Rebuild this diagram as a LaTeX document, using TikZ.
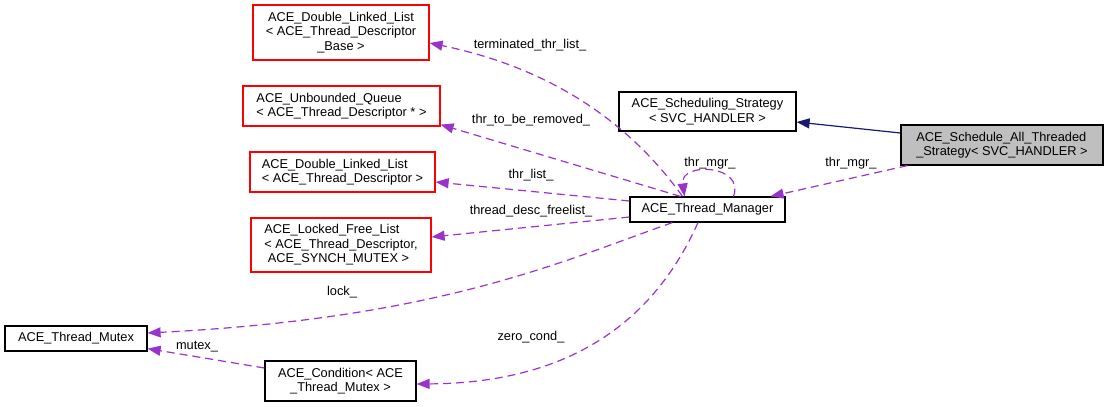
\documentclass[tikz,border=0pt]{standalone}
\usepackage{fontspec}
\setmainfont{Liberation Sans}
\usetikzlibrary{arrows.meta}
\definecolor{orchid}{RGB}{154,50,205}
\definecolor{edgeblue}{RGB}{25,25,112}
\definecolor{mainfill}{RGB}{191,191,191}

\begin{document}
\begin{tikzpicture}[x=1pt, y=-1pt, line width=1.2pt,
    font=\fontsize{12.8}{14.5}\selectfont,
    cls/.style={draw=black, fill=white, inner sep=0pt},
    refcls/.style={cls, draw=red},
    member/.style={orchid, dash pattern=on 8pt off 5pt, -{Triangle[length=13pt, width=10pt]}},
    derive/.style={edgeblue, -{Triangle[length=13pt, width=10pt]}},
    lbl/.style={inner sep=0pt}]
            \useasboundingbox (0,0) rectangle (1109,407);

            % Classes
            \node[refcls, align=center, minimum width=176pt, minimum height=55pt] (dllbase) at (341,32.5)
                {ACE\_Double\_Linked\_List\\< ACE\_Thread\_Descriptor\\\_Base >};
            \node[refcls, align=left, minimum width=197pt, minimum height=40pt] (uq) at (341.5,106)
                {ACE\_Unbounded\_Queue\\< ACE\_Thread\_Descriptor * >};
            \node[refcls, align=left, minimum width=185pt, minimum height=40pt] (dll) at (342.5,172)
                {ACE\_Double\_Linked\_List\\< ACE\_Thread\_Descriptor >};
            \node[refcls, align=left, minimum width=180pt, minimum height=54pt] (lfl) at (341,245)
                {ACE\_Locked\_Free\_List\\< ACE\_Thread\_Descriptor,\\\ ACE\_SYNCH\_MUTEX >};
            \node[cls, minimum width=142pt, minimum height=25pt] (mutex) at (76,338.5) {ACE\_Thread\_Mutex};
            \node[cls, align=center, minimum width=151pt, minimum height=40pt] (cond) at (340.5,381)
                {ACE\_Condition< ACE\\\_Thread\_Mutex >};
            \node[cls, align=center, minimum width=177pt, minimum height=39pt] (ss) at (707.5,111.5)
                {ACE\_Scheduling\_Strategy\\< SVC\_HANDLER >};
            \node[cls, minimum width=155pt, minimum height=25pt] (tm) at (707.5,209.5) {ACE\_Thread\_Manager};
            \node[cls, fill=mainfill, align=left, minimum width=202pt, minimum height=40pt] (sat) at (1002,145)
                {ACE\_Schedule\_All\_Threaded\\\_Strategy< SVC\_HANDLER >};

            % Inheritance
            \draw[derive] ([yshift=12pt]sat.west) -- ([yshift=-10.5pt]ss.east);

            % Usage
            \draw[member] ([xshift=7pt]sat.south west) -- ([xshift=-15pt]tm.north east);
            \draw[member] ([xshift=26pt]tm.north) .. controls +(12,-32) and +(-5,-35) .. ([xshift=-23pt]tm.north);
            \draw[member] ([xshift=-25pt]tm.north) .. controls (635,130) and (560,70) .. ([yshift=-10.5pt]dllbase.east);
            \draw[member] ([xshift=-27pt]tm.north) -- ([yshift=2pt]uq.south east);
            \draw[member] ([yshift=8.5pt]tm.west) -- ([yshift=-10pt]dll.east);
            \draw[member] ([yshift=-7.5pt]tm.west) -- ([yshift=8pt]lfl.east);
            \draw[member] ([xshift=43pt]tm.south west) .. controls (560,262) and (440,318) .. ([yshift=5.5pt]mutex.east);
            \draw[member] ([xshift=-9.5pt]tm.south) .. controls (650,330) and (560,383) .. ([yshift=-3pt]cond.east);
            \draw[member] ([yshift=13pt]cond.west) -- ([yshift=3pt]mutex.south east);

            % Edge labels
            \node[lbl] (lterm) at (530,45) {terminated\_thr\_list\_};
            \node[lbl] (lremove) at (531,120) {thr\_to\_be\_removed\_};
            \node[lbl] (llist) at (531,175) {thr\_list\_};
            \node[lbl] (lfree) at (531,211) {thread\_desc\_freelist\_};
            \node[lbl] (lself) at (710,163) {thr\_mgr\_};
            \node[lbl] (lmgr) at (851,163) {thr\_mgr\_};
            \node[lbl] (llock) at (342,292) {lock\_};
            \node[lbl] (lzero) at (531,337) {zero\_cond\_};
            \node[lbl] (lmutex) at (197,347) {mutex\_};
\end{tikzpicture}
\end{document}
